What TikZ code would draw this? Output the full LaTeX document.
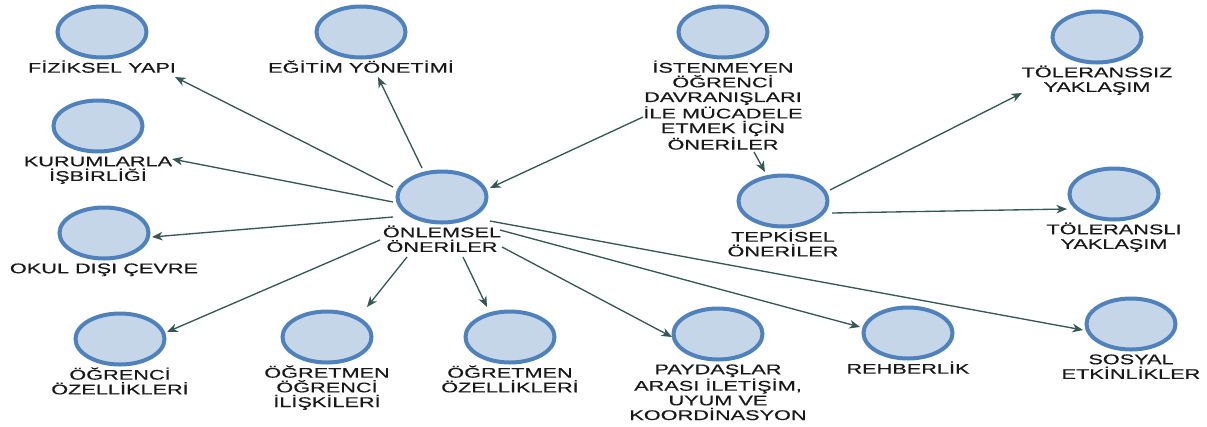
\documentclass[tikz,border=0pt]{standalone}
\usepackage{fontspec}
\setmainfont{Liberation Sans}[FakeStretch=1.55,FakeBold=0.4]
\usetikzlibrary{arrows.meta,shapes.geometric}
\definecolor{bubfill}{RGB}{197,214,232}
\definecolor{bubline}{RGB}{79,129,189}
\definecolor{edgecol}{RGB}{52,88,84}
\definecolor{txtcol}{RGB}{25,25,25}
\begin{document}
\begin{tikzpicture}[x=0.75pt,y=-0.75pt,
  bub/.style={ellipse, draw=bubline, fill=bubfill, line width=3pt,
    minimum width=66.75pt, minimum height=38.25pt, inner sep=0pt},
  lbl/.style={anchor=north, align=center, inner sep=0pt, outer sep=0pt,
    text=txtcol, font=\fontsize{10.5pt}{11pt}\selectfont},
  arr/.style={draw=edgecol, line width=1pt,
    -{Stealth[length=8pt,width=6.5pt,inset=2.5pt]}}]
\useasboundingbox (0,0) rectangle (1207,426);

% bubbles
\node[bub] (fiz) at (102,32) {};
\node[bub] (eg)  at (361,32) {};
\node[bub] (kur) at (98,126) {};
\node[bub] (ok)  at (104,233) {};
\node[bub] (ogr) at (120,339) {};
\node[bub] (oor) at (327,337) {};
\node[bub] (ooz) at (510,337) {};
\node[bub] (pay) at (718,334) {};
\node[bub] (reh) at (908,333) {};
\node[bub] (sos) at (1131,324) {};
\node[bub] (on)  at (442,197) {};
\node[bub] (ist) at (723,32) {};
\node[bub] (tep) at (783,201) {};
\node[bub] (tsz) at (1097,37) {};
\node[bub] (tli) at (1114,194) {};

% labels
\node[lbl] (fizL) at ([yshift=-0.75pt]fiz.south) {\vphantom{Ö}FİZİKSEL YAPI};
\node[lbl] (egL)  at ([yshift=-0.75pt]eg.south)  {\vphantom{Ö}EĞİTİM YÖNETİMİ};
\node[lbl] (kurL) at ([yshift=-0.75pt]kur.south) {\vphantom{Ö}KURUMLARLA\\İŞBİRLİĞİ};
\node[lbl] (okL)  at ([yshift=-0.75pt]ok.south)  {\vphantom{Ö}OKUL DIŞI ÇEVRE};
\node[lbl] (ogrL) at ([yshift=-0.75pt]ogr.south) {\vphantom{Ö}ÖĞRENCİ\\ÖZELLİKLERİ};
\node[lbl] (oorL) at ([yshift=-0.75pt]oor.south) {\vphantom{Ö}ÖĞRETMEN\\ÖĞRENCİ\\İLİŞKİLERİ};
\node[lbl] (oozL) at ([yshift=-0.75pt]ooz.south) {\vphantom{Ö}ÖĞRETMEN\\ÖZELLİKLERİ};
\node[lbl] (payL) at ([yshift=-0.75pt]pay.south) {\vphantom{Ö}PAYDAŞLAR\\ARASI İLETİŞİM,\\UYUM VE\\KOORDİNASYON};
\node[lbl] (rehL) at ([yshift=-0.75pt]reh.south) {\vphantom{Ö}REHBERLİK};
\node[lbl] (sosL) at ([yshift=-0.75pt]sos.south) {\vphantom{Ö}SOSYAL\\ETKİNLİKLER};
\node[lbl] (onL)  at ([yshift=-0.75pt]on.south)  {\vphantom{Ö}ÖNLEMSEL\\ÖNERİLER};
\node[lbl] (istL) at ([yshift=-0.75pt]ist.south) {\vphantom{Ö}İSTENMEYEN\\ÖĞRENCİ\\DAVRANIŞLARI\\İLE MÜCADELE\\ETMEK İÇİN\\ÖNERİLER};
\node[lbl] (tepL) at ([yshift=-0.75pt]tep.south) {\vphantom{Ö}TEPKİSEL\\ÖNERİLER};
\node[lbl] (tszL) at ([yshift=-0.75pt]tsz.south) {\vphantom{Ö}TÖLERANSSIZ\\YAKLAŞIM};
\node[lbl] (tliL) at ([yshift=-0.75pt]tli.south) {\vphantom{Ö}TÖLERANSLI\\YAKLAŞIM};

% connectors
\draw[arr] ([shift={(-49,-10)}]on.center) -- ([shift={(73,45)}]fiz.center);
\draw[arr] ([shift={(-20,-29)}]on.center) -- ([shift={(17,45)}]eg.center);
\draw[arr] ([shift={(-49,5)}]on.center)   -- ([shift={(74,33)}]kur.center);
\draw[arr] ([shift={(-49,20)}]on.center)  -- ([shift={(48,4)}]ok.center);
\draw[arr] ([shift={(-62,43)}]on.center)  -- ([shift={(47,-7)}]ogr.center);
\draw[arr] ([shift={(-35,60)}]on.center)  -- ([shift={(40,-30)}]oor.center);
\draw[arr] ([shift={(21,60)}]on.center)   -- ([shift={(-23,-30)}]ooz.center);
\draw[arr] ([shift={(60,50)}]on.center)   -- ([shift={(-46,3)}]pay.center);
\draw[arr] ([shift={(58,33)}]on.center)   -- ([shift={(-48,-6)}]reh.center);
\draw[arr] ([shift={(48,24)}]on.center)   -- ([shift={(-48,6)}]sos.center);
\draw[arr] ([shift={(-80,85)}]ist.center) -- ([shift={(48,-9)}]on.center);
\draw[arr] ([shift={(31,120)}]ist.center) -- ([shift={(-18,-29)}]tep.center);
\draw[arr] ([shift={(47,-11)}]tep.center) -- ([shift={(-75,56)}]tsz.center);
\draw[arr] ([shift={(49,12)}]tep.center)  -- ([shift={(-47,15)}]tli.center);
\end{tikzpicture}
\end{document}
